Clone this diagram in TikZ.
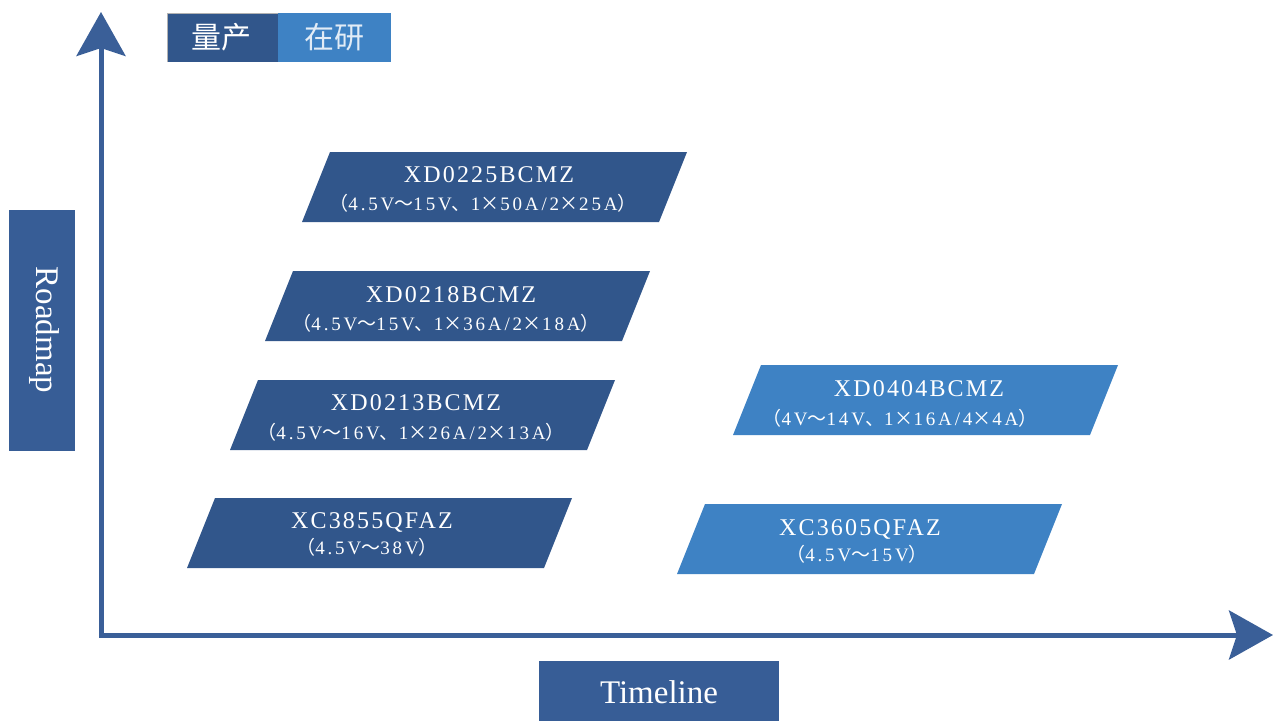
\documentclass[tikz,border=0pt]{standalone}
\usepackage{fontspec}
\setmainfont{Liberation Serif}
\newfontfamily\cjk{Noto Sans CJK SC}
\newfontfamily\lab{Liberation Serif}[LetterSpace=9]
\newfontfamily\labs{Liberation Serif}[LetterSpace=15]
\usetikzlibrary{arrows.meta}
\definecolor{darkb}{RGB}{49,86,139}
\definecolor{lightb}{RGB}{62,130,196}
\definecolor{axisb}{RGB}{58,95,152}
\definecolor{boxb}{RGB}{55,93,150}
\newcommand\fw[1]{{\cjk #1}}
\newcommand\tms{\makebox[1.05em]{\cjk ×}}
\newcommand\para[3]{\fill[#1] (#2,#3) -- ++(357,0) -- ++(-28,70) -- ++(-357,0) -- cycle;}
\tikzset{
  ttl/.style={anchor=base, text=white, inner sep=0pt, font=\lab\fontsize{24}{28}\selectfont},
  sub/.style={anchor=base, text=white, inner sep=0pt, font=\labs\fontsize{19}{22}\selectfont},
  axisline/.style={draw=axisb, line width=5pt, line join=miter,
     arrows={Stealth[length=44pt,width=49pt,inset=8pt]-Stealth[length=44pt,width=49pt,inset=8pt]}},
  legtext/.style={text=white, inner sep=0pt, font=\cjk\fontsize{30}{34}\selectfont},
  axlabel/.style={text=white, inner sep=0pt}
}
\begin{document}
\begin{tikzpicture}[x=1pt,y=-1pt]
\useasboundingbox[fill=white] (0,0) rectangle (1275,721);

% axes
\coordinate (ytip) at (101,12);
\coordinate (origin) at (101,635);
\coordinate (xtip) at (1273,635);
\draw[axisline] (ytip) -- (origin) -- (xtip);

% legend
\fill[darkb] (167,13) rectangle (278,62);
\draw[gray!60, line width=0.8pt] (167,62) -- (167,13) -- (278,13);
\fill[lightb] (278,13) rectangle (391,62);
\node[legtext] (mass) at (221,37) {量产};
\node[legtext, text=white!85!lightb] (dev) at (334,37) {在研};

% Roadmap box
\fill[boxb] (9,210) rectangle (75,451);
\node[axlabel, rotate=-90, font=\fontsize{33}{36}\selectfont] (roadmap) at (44,330) {Roadmap};

% Timeline box
\fill[boxb] (539,661) rectangle (779,721);
\node[axlabel, anchor=base, font=\fontsize{33}{36}\selectfont] (timeline) at (659,703) {Timeline};

% products in mass production
\para{darkb}{330}{152}
\node[ttl] (p1) at (489,182) {XD0225BCMZ};
\node[sub] (p1s) at (483,210) {\fw{（}4.5V\fw{～}15V\fw{、}1\tms 50A/2\tms 25A\fw{）}};

\para{darkb}{293}{271}
\node[ttl] (p2) at (451,302) {XD0218BCMZ};
\node[sub] (p2s) at (446,330) {\fw{（}4.5V\fw{～}15V\fw{、}1\tms 36A/2\tms 18A\fw{）}};

\para{darkb}{258}{380}
\node[ttl] (p3) at (416,410) {XD0213BCMZ};
\node[sub] (p3s) at (411,439) {\fw{（}4.5V\fw{～}16V\fw{、}1\tms 26A/2\tms 13A\fw{）}};

\para{darkb}{215}{498}
\node[ttl] (p4) at (372,528) {XC3855QFAZ};
\node[sub] (p4s) at (367,554) {\fw{（}4.5V\fw{～}38V\fw{）}};

% products in development
\para{lightb}{761}{365}
\node[ttl] (d1) at (919,396) {XD0404BCMZ};
\node[sub] (d1s) at (900,425) {\fw{（}4V\fw{～}14V\fw{、}1\tms 16A/4\tms 4A\fw{）}};

\para{lightb}{705}{504}
\node[ttl] (d2) at (860,535) {XC3605QFAZ};
\node[sub] (d2s) at (857,561) {\fw{（}4.5V\fw{～}15V\fw{）}};
\end{tikzpicture}
\end{document}
